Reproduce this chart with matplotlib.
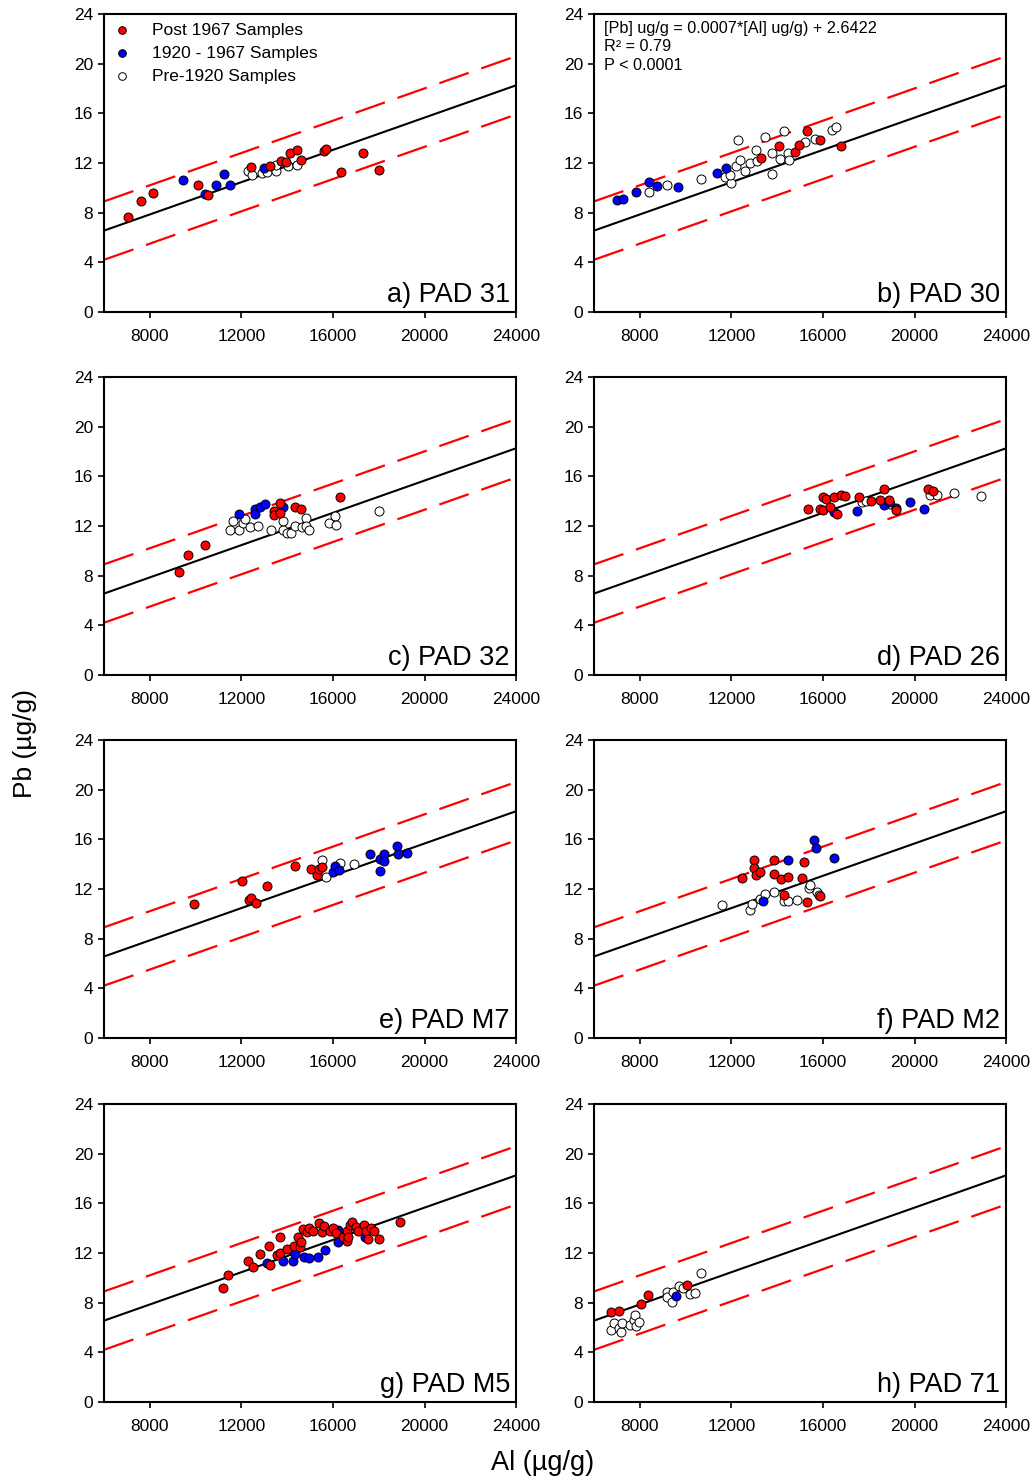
import numpy as np
import matplotlib
matplotlib.use("Agg")
import matplotlib.pyplot as plt

plt.rcParams['font.family'] = ['Liberation Sans', 'DejaVu Sans']

# regression line and 95% prediction band (Pb vs Al, all cores)
SLOPE = 0.00065
INTERCEPT = 2.66
PI_HALF = 2.35
X_FIT = [6000, 24000]

# each group is (Al ug/g, Pb ug/g)
pad31_post = ([7050, 7620, 8150, 10120, 10550, 12420, 13240, 13730, 13970, 14110, 14430, 14620, 15600, 15710, 16340, 17330, 18030],
              [7.64, 8.98, 9.57, 10.21, 9.46, 11.66, 11.77, 12.17, 12.06, 12.79, 13.08, 12.28, 13.0, 13.16, 11.26, 12.79, 11.47])
pad31_mid = ([9460, 10400, 10910, 11230, 11520, 13000],
             [10.67, 9.54, 10.21, 11.1, 10.21, 11.6])
pad31_pre = ([12290, 12470, 12900, 13120, 13530, 13530, 14020, 14430],
             [11.39, 11.07, 11.2, 11.29, 11.39, 11.87, 11.74, 11.82])

pad30_post = ([13300, 14070, 14800, 14970, 15300, 15890, 16790],
              [12.41, 13.35, 12.87, 13.43, 14.56, 13.89, 13.35])
pad30_mid = ([7010, 7270, 7830, 8420, 8760, 9670, 11380, 11780],
             [9.06, 9.14, 9.7, 10.51, 10.19, 10.05, 11.18, 11.61])
pad30_pre = ([8420, 9190, 10680, 11740, 11990, 11960, 12180, 12290, 12390, 12580, 12800, 13080, 13120,
              13490, 13780, 13780, 14110, 14290, 14460, 14500, 15200, 15670, 16400, 16580],
             [9.68, 10.21, 10.75, 10.86, 10.38, 11.07, 11.74, 13.89, 12.28, 11.34, 12.01, 13.08, 12.14,
              14.1, 12.82, 11.15, 12.33, 14.56, 12.82, 12.28, 13.67, 13.94, 14.69, 14.88])

pad32_post = ([9270, 9690, 10420, 13410, 13410, 13700, 13700, 14330, 14610, 16320],
              [8.3, 9.66, 10.5, 13.18, 12.91, 13.85, 13.05, 13.5, 13.37, 14.31])
pad32_mid = ([11890, 12580, 12610, 12830, 13020, 13820],
             [12.99, 13.37, 12.99, 13.53, 13.8, 13.5])
pad32_pre = ([11520, 11640, 11910, 12070, 12180, 12390, 12730, 13300, 13820, 13820, 14000, 14180,
              14330, 14650, 14840, 14840, 14940, 15810, 16100, 16120, 18030],
             [11.65, 12.43, 11.7, 12.24, 12.59, 11.89, 12.0, 11.65, 12.38, 11.65, 11.44, 11.44,
              12.03, 11.92, 12.64, 12.03, 11.65, 12.24, 12.78, 12.11, 13.23])

pad26_post = ([15350, 15860, 16000, 16000, 16150, 16290, 16500, 16610, 16790, 16980, 17560, 18100,
               18480, 18680, 18900, 19190, 20570, 20800],
              [13.37, 13.37, 13.26, 14.34, 14.2, 13.5, 14.31, 12.99, 14.52, 14.39, 14.34, 13.99,
               14.12, 15.01, 14.07, 13.26, 14.98, 14.85])
pad26_mid = ([16500, 17490, 18650, 18870, 19200, 19790, 20400],
             [13.13, 13.23, 13.66, 13.93, 13.45, 13.93, 13.4])
pad26_pre = ([17700, 17890, 18910, 20690, 20980, 21710, 22900],
             [13.91, 13.99, 13.77, 14.5, 14.5, 14.69, 14.39])

padm7_post = ([9950, 12030, 12320, 12420, 12640, 13120, 14330, 15040, 15300, 15380, 15520],
              [10.79, 12.62, 11.14, 11.27, 10.87, 12.22, 13.83, 13.62, 13.11, 13.62, 13.78])
padm7_mid = ([16000, 16100, 16250, 17630, 18040, 18040, 18210, 18240, 18800, 18830, 19230],
             [13.35, 13.83, 13.51, 14.78, 14.43, 13.48, 14.83, 14.24, 15.45, 14.78, 14.91])
padm7_pre = ([15520, 15710, 16320, 16900],
             [14.37, 12.97, 14.1, 13.97])

padm2_post = ([12470, 12980, 12980, 13080, 13270, 13880, 13880, 14170, 14460, 14290, 15090, 15190, 15300, 15890],
              [12.89, 14.32, 13.7, 13.16, 13.35, 14.32, 13.24, 12.81, 12.97, 11.54, 12.89, 14.19, 10.95, 11.41])
padm2_mid = ([13380, 14480, 15600, 15700, 16480],
             [11.0, 14.32, 15.91, 15.26, 14.51])
padm2_pre = ([11590, 12800, 12900, 13240, 13490, 13880, 14290, 14460, 14870, 15380, 15450, 15740, 15810],
             [10.68, 10.33, 10.81, 11.22, 11.6, 11.73, 11.0, 11.0, 11.08, 12.08, 12.35, 11.73, 11.54])

padm5_post = ([11200, 11420, 12290, 12510, 12830, 13220, 13240, 13560, 13700, 13700, 14000, 14290, 14480,
               14550, 14610, 14690, 14870, 14940, 15130, 15380, 15520, 15600, 15860, 16000, 16150, 16440,
               16610, 16610, 16640, 16760, 16830, 17020, 17090, 17370, 17460, 17520, 17660, 17780, 18030, 18910],
              [9.17, 10.24, 11.37, 10.91, 11.94, 12.61, 11.05, 11.85, 13.28, 12.04, 12.34, 12.58, 13.28,
               12.53, 12.93, 13.92, 13.66, 14.01, 13.74, 14.41, 13.66, 14.22, 13.74, 14.06, 13.6, 13.33,
               13.79, 12.98, 13.33, 14.27, 14.54, 14.14, 13.74, 14.27, 13.74, 13.15, 14.06, 13.74, 13.15, 14.54])
padm5_mid = ([13120, 13810, 14210, 14240, 14330, 14720, 14940, 15330, 15640, 16210, 16210, 17410],
             [11.24, 11.37, 12.31, 11.37, 11.91, 11.72, 11.64, 11.72, 12.26, 13.87, 12.93, 13.33])
padm5_pre = ([], [])

pad71_post = ([6720, 7110, 8030, 8360, 10070],
              [7.28, 7.34, 7.9, 8.63, 9.44])
pad71_mid = ([9600], [8.55])
pad71_pre = ([6720, 6870, 7080, 7160, 7230, 7590, 7740, 7810, 7850, 7960, 9190, 9190, 9410, 9460,
              9700, 9890, 10210, 10400, 10680],
             [5.81, 6.34, 5.94, 5.67, 6.34, 6.21, 6.61, 7.02, 6.16, 6.48, 8.9, 8.44, 8.09, 8.9,
              9.31, 9.17, 8.71, 8.76, 10.43])

panels = [
    ("a) PAD 31", pad31_post, pad31_mid, pad31_pre),
    ("b) PAD 30", pad30_post, pad30_mid, pad30_pre),
    ("c) PAD 32", pad32_post, pad32_mid, pad32_pre),
    ("d) PAD 26", pad26_post, pad26_mid, pad26_pre),
    ("e) PAD M7", padm7_post, padm7_mid, padm7_pre),
    ("f) PAD M2", padm2_post, padm2_mid, padm2_pre),
    ("g) PAD M5", padm5_post, padm5_mid, padm5_pre),
    ("h) PAD 71", pad71_post, pad71_mid, pad71_pre),
]

group_styles = [
    ("Post 1967 Samples", "#ff0000"),
    ("1920 - 1967 Samples", "#0000ff"),
    ("Pre-1920 Samples", "white"),
]

fig = plt.figure(figsize=(10.34, 14.79), dpi=100)

lefts = [0.1006, 0.5745]
bottoms = [0.789, 0.5436, 0.2982, 0.052]
w, h = 0.3985, 0.2015

x_fit = np.array(X_FIT, dtype=float)
y_fit = SLOPE * x_fit + INTERCEPT

for i, (label, post, mid, pre) in enumerate(panels):
    ax = fig.add_axes([lefts[i % 2], bottoms[i // 2], w, h])

    ax.plot(x_fit, y_fit, color="black", lw=1.5, zorder=2)
    for off in (PI_HALF, -PI_HALF):
        ax.plot(x_fit, y_fit + off, color="#ff0000", lw=1.6,
                dashes=(14, 6), zorder=2)

    # draw oldest first so recent samples sit on top
    for (name, col), grp in reversed(list(zip(group_styles, (post, mid, pre)))):
        ax.scatter(grp[0], grp[1], s=42, c=col, edgecolors="black",
                   linewidths=0.7, zorder=3, label=name)

    ax.set_xlim(6000, 24000)
    ax.set_ylim(0, 24)
    ax.set_xticks([8000, 12000, 16000, 20000, 24000])
    ax.set_yticks([0, 4, 8, 12, 16, 20, 24])
    ax.tick_params(direction="out", length=4, width=1.2, labelsize=12.5,
                   pad=4)
    ax.tick_params(axis="x", pad=8)
    for sp in ax.spines.values():
        sp.set_linewidth(1.5)

    ax.text(0.985, 0.035, label, transform=ax.transAxes, ha="right",
            va="baseline", fontsize=19.5)

    if i == 0:
        handles, labels = ax.get_legend_handles_labels()
        ax.legend(handles[::-1], labels[::-1], loc="upper left", frameon=False,
                  fontsize=12.5, handletextpad=1.3, borderaxespad=0.0,
                  borderpad=0.5, labelspacing=0.45, markerscale=0.85,
                  handlelength=0.8, bbox_to_anchor=(0.006, 1.0))
    if i == 1:
        ax.text(0.025, 0.978, "[Pb] ug/g = 0.0007*[Al] ug/g) + 2.6422\n"
                "R² = 0.79\nP < 0.0001", transform=ax.transAxes,
                ha="left", va="top", fontsize=11.7, linespacing=1.3)

fig.text(0.024, 0.497, "Pb (µg/g)", rotation=90, ha="center", va="center",
         fontsize=19)
fig.text(0.525, 0.011, "Al (µg/g)", ha="center", va="center", fontsize=19.5)

fig.savefig("out.png", dpi=100)
